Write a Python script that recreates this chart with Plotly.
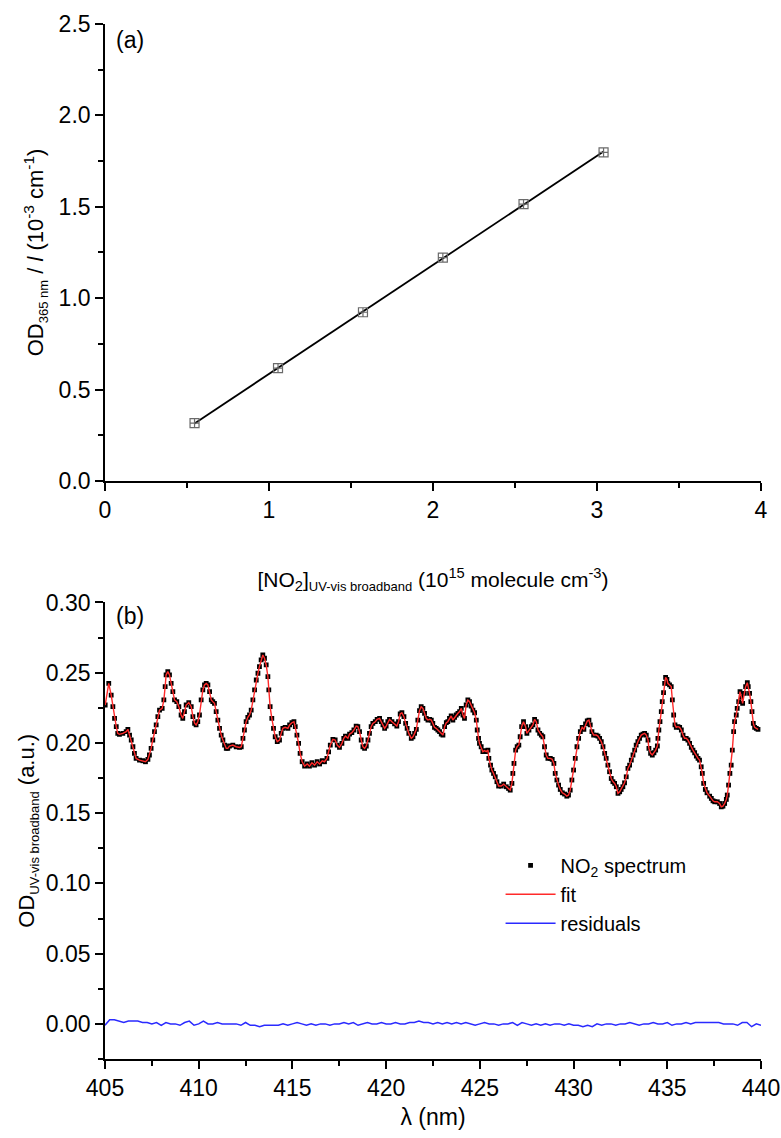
import numpy as np
import plotly.graph_objects as go

# ---------------- panel (a) data ----------------
no2_conc = [0.546, 1.055, 1.573, 2.06, 2.552, 3.04]
od365 = [0.316, 0.617, 0.923, 1.222, 1.515, 1.798]

# ---------------- panel (b) data ----------------
wl_seg1 = [405.01, 405.20, 405.33, 405.42, 405.51, 405.60, 405.68, 405.77, 405.95, 406.13,
           406.22, 406.31, 406.40, 406.49, 406.57, 406.66, 406.84, 407.02, 407.16, 407.29,
           407.37, 407.46, 407.55, 407.64, 407.73, 407.82, 407.91, 408.05, 408.14, 408.21,
           408.26, 408.35, 408.44, 408.53, 408.62, 408.71, 408.83, 408.94, 409.06, 409.15,
           409.24, 409.33, 409.47, 409.60, 409.69, 409.78, 409.86, 409.95, 410.04, 410.13,
           410.22, 410.31, 410.40, 410.49, 410.58, 410.67, 410.75, 410.84, 410.93, 411.02,
           411.11, 411.20, 411.29, 411.38, 411.47, 411.55, 411.64, 411.82, 412.00, 412.18,
           412.27, 412.36, 412.44, 412.53, 412.62, 412.71, 412.80, 412.89, 412.98, 413.07,
           413.16, 413.24, 413.33, 413.42, 413.51]
od_seg1 = [0.2270, 0.2424, 0.2341, 0.2258, 0.2175, 0.2116, 0.2068, 0.2061, 0.2068, 0.2080,
           0.2097, 0.2056, 0.2021, 0.1973, 0.1926, 0.1890, 0.1878, 0.1873, 0.1866, 0.1883,
           0.1914, 0.1961, 0.2021, 0.2080, 0.2128, 0.2187, 0.2234, 0.2246, 0.2306, 0.2401,
           0.2484, 0.2508, 0.2484, 0.2424, 0.2365, 0.2306, 0.2294, 0.2258, 0.2199, 0.2175,
           0.2223, 0.2270, 0.2287, 0.2258, 0.2187, 0.2140, 0.2128, 0.2151, 0.2199, 0.2306,
           0.2377, 0.2413, 0.2424, 0.2413, 0.2365, 0.2306, 0.2294, 0.2282, 0.2223, 0.2163,
           0.2104, 0.2056, 0.2021, 0.1985, 0.1961, 0.1961, 0.1978, 0.1985, 0.1973, 0.1968,
           0.1973, 0.2033, 0.2092, 0.2151, 0.2182, 0.2199, 0.2234, 0.2306, 0.2377, 0.2448,
           0.2496, 0.2543, 0.2591, 0.2626, 0.2603]

wl_seg2 = [413.60, 413.69, 413.74, 413.81, 413.90, 413.99, 414.08, 414.19, 414.31, 414.40,
           414.49, 414.61, 414.76, 414.85, 414.97, 415.08, 415.15, 415.24, 415.33, 415.41,
           415.52, 415.65, 415.79, 415.91, 416.04, 416.18, 416.32, 416.45, 416.59, 416.71,
           416.84, 416.93, 417.02, 417.16, 417.28, 417.39, 417.51, 417.64, 417.74, 417.83,
           417.96, 418.05, 418.17, 418.28, 418.40, 418.49, 418.58, 418.67, 418.76, 418.85,
           418.94, 419.03, 419.11, 419.20, 419.29, 419.42, 419.52, 419.65, 419.74, 419.83,
           419.92, 420.00, 420.09, 420.18, 420.31, 420.45, 420.57, 420.66, 420.75, 420.84,
           420.95, 421.04, 421.12, 421.21, 421.34, 421.43, 421.52, 421.61, 421.69, 421.78,
           421.87, 421.96, 422.05, 422.14, 422.23, 422.32]
od_seg2 = [0.2555, 0.2472, 0.2377, 0.2258, 0.2175, 0.2104, 0.2044, 0.2009, 0.2021, 0.2068,
           0.2104, 0.2111, 0.2104, 0.2128, 0.2144, 0.2151, 0.2116, 0.2056, 0.1997, 0.1926,
           0.1866, 0.1835, 0.1850, 0.1835, 0.1859, 0.1842, 0.1866, 0.1850, 0.1873, 0.1866,
           0.1890, 0.1937, 0.1985, 0.2025, 0.2021, 0.1985, 0.1968, 0.1997, 0.2033, 0.2049,
           0.2033, 0.2063, 0.2073, 0.2092, 0.2120, 0.2116, 0.2080, 0.2021, 0.1973, 0.1961,
           0.1978, 0.2021, 0.2068, 0.2116, 0.2139, 0.2151, 0.2168, 0.2175, 0.2151, 0.2128,
           0.2104, 0.2120, 0.2151, 0.2168, 0.2151, 0.2135, 0.2120, 0.2151, 0.2206, 0.2215,
           0.2187, 0.2139, 0.2104, 0.2068, 0.2033, 0.2044, 0.2068, 0.2097, 0.2163, 0.2230,
           0.2258, 0.2246, 0.2211, 0.2175, 0.2163, 0.2168]

wl_seg3 = [422.41, 422.49, 422.58, 422.67, 422.76, 422.85, 422.94, 423.03, 423.12, 423.21,
           423.29, 423.38, 423.47, 423.56, 423.65, 423.74, 423.83, 423.92, 424.01, 424.10,
           424.18, 424.27, 424.36, 424.45, 424.54, 424.63, 424.72, 424.81, 424.86, 424.93,
           424.98, 425.07, 425.16, 425.25, 425.34, 425.43, 425.48, 425.57, 425.64, 425.73,
           425.82, 425.91, 426.00, 426.14, 426.27, 426.41, 426.53, 426.62, 426.71, 426.76,
           426.82, 426.91, 426.99, 427.08, 427.15, 427.23, 427.33, 427.44, 427.51, 427.62,
           427.74, 427.83, 427.92, 428.01, 428.10, 428.19, 428.28, 428.36, 428.45, 428.54,
           428.63, 428.76, 428.86, 428.95, 429.02, 429.11, 429.20, 429.29, 429.40, 429.52,
           429.64, 429.73, 429.82, 429.91, 430.00, 430.09, 430.18, 430.27, 430.36, 430.46,
           430.55, 430.64, 430.73, 430.82, 430.89, 430.98, 431.07, 431.21]
od_seg3 = [0.2163, 0.2139, 0.2111, 0.2104, 0.2092, 0.2080, 0.2063, 0.2056, 0.2116, 0.2144,
           0.2151, 0.2175, 0.2192, 0.2163, 0.2182, 0.2199, 0.2211, 0.2223, 0.2246, 0.2199,
           0.2175, 0.2270, 0.2306, 0.2294, 0.2263, 0.2234, 0.2215, 0.2163, 0.2092, 0.2033,
           0.1997, 0.1973, 0.1938, 0.1945, 0.1938, 0.1949, 0.1890, 0.1842, 0.1807, 0.1783,
           0.1759, 0.1724, 0.1693, 0.1693, 0.1707, 0.1688, 0.1676, 0.1664, 0.1712, 0.1783,
           0.1854, 0.1949, 0.1973, 0.1985, 0.2044, 0.2116, 0.2151, 0.2116, 0.2068, 0.2092,
           0.2116, 0.2128, 0.2168, 0.2151, 0.2092, 0.2068, 0.2056, 0.2044, 0.1973, 0.1914,
           0.1890, 0.1890, 0.1883, 0.1854, 0.1783, 0.1736, 0.1700, 0.1669, 0.1645, 0.1636,
           0.1621, 0.1629, 0.1664, 0.1736, 0.1807, 0.1890, 0.1973, 0.2033, 0.2080, 0.2111,
           0.2097, 0.2135, 0.2156, 0.2163, 0.2128, 0.2080, 0.2056, 0.2056]

wl_seg4 = [431.30, 431.39, 431.48, 431.57, 431.66, 431.74, 431.83, 431.92, 432.01, 432.10,
           432.19, 432.28, 432.37, 432.46, 432.54, 432.63, 432.72, 432.81, 432.90, 432.99,
           433.08, 433.17, 433.26, 433.34, 433.43, 433.52, 433.61, 433.70, 433.79, 433.88,
           433.97, 434.02, 434.11, 434.20, 434.29, 434.38, 434.47, 434.50, 434.55, 434.61,
           434.68, 434.73, 434.80, 434.86, 434.91, 434.98, 435.03, 435.12, 435.21, 435.27,
           435.34, 435.41, 435.48, 435.57, 435.66, 435.75, 435.84, 435.92, 436.01, 436.10,
           436.19, 436.28, 436.37, 436.46, 436.55, 436.64, 436.72, 436.81, 436.87, 436.94,
           437.03, 437.12, 437.26, 437.35, 437.44, 437.53, 437.67, 437.79, 437.88, 437.97,
           438.06, 438.15, 438.20, 438.27, 438.34, 438.41, 438.47, 438.54, 438.59, 438.68,
           438.73, 438.81, 438.88, 438.95, 439.02, 439.11, 439.18, 439.27, 439.32, 439.39,
           439.46, 439.52, 439.59, 439.66, 439.75, 439.84]
od_seg4 = [0.2049, 0.2033, 0.2009, 0.1973, 0.1926, 0.1890, 0.1842, 0.1795, 0.1747, 0.1724,
           0.1712, 0.1688, 0.1641, 0.1652, 0.1669, 0.1688, 0.1716, 0.1759, 0.1819, 0.1842,
           0.1878, 0.1914, 0.1949, 0.1985, 0.2009, 0.2033, 0.2056, 0.2063, 0.2068, 0.2056,
           0.2021, 0.1961, 0.1926, 0.1914, 0.1930, 0.1949, 0.1978, 0.2033, 0.2092, 0.2151,
           0.2223, 0.2294, 0.2358, 0.2424, 0.2467, 0.2453, 0.2424, 0.2413, 0.2401, 0.2306,
           0.2199, 0.2128, 0.2111, 0.2116, 0.2111, 0.2092, 0.2056, 0.2033, 0.2033, 0.2021,
           0.1997, 0.1968, 0.1949, 0.1930, 0.1907, 0.1890, 0.1878, 0.1830, 0.1783, 0.1712,
           0.1669, 0.1645, 0.1621, 0.1605, 0.1588, 0.1581, 0.1581, 0.1569, 0.1545, 0.1550,
           0.1569, 0.1598, 0.1629, 0.1700, 0.1783, 0.1842, 0.1949, 0.2080, 0.2151, 0.2199,
           0.2246, 0.2294, 0.2365, 0.2329, 0.2282, 0.2353, 0.2401, 0.2429, 0.2401, 0.2353,
           0.2294, 0.2223, 0.2139, 0.2111, 0.2104, 0.2097]

wavelength = wl_seg1 + wl_seg2 + wl_seg3 + wl_seg4
od_spectrum = od_seg1 + od_seg2 + od_seg3 + od_seg4
n = min(len(wavelength), len(od_spectrum))
wavelength, od_spectrum = wavelength[:n], od_spectrum[:n]

residual_wl = list(np.round(np.arange(405.0, 440.001, 0.25), 2))
residuals = [-0.001, 0.003, 0.003, 0.002, 0.001, 0.002, 0.002, 0.002, 0.001, 0.001,
             0.000, 0.001, -0.001, 0.001, 0.000, 0.000, -0.001, 0.001, 0.002, -0.001,
             0.000, 0.002, 0.000, 0.000, 0.001, 0.000, 0.000, 0.000, 0.000, -0.001,
             0.001, -0.001, -0.001, -0.002, -0.001, -0.001, -0.001, -0.001, 0.000, -0.001,
             0.000, 0.001, 0.000, -0.001, 0.000, -0.001, 0.000, 0.000, -0.001, 0.000,
             0.000, 0.001, 0.000, 0.001, -0.001, 0.000, 0.001, 0.000, 0.000, 0.001,
             0.000, 0.000, 0.001, 0.000, 0.000, 0.001, 0.001, 0.002, 0.001, 0.001,
             0.000, 0.001, 0.000, 0.001, 0.000, 0.001, 0.000, 0.001, 0.000, -0.001,
             0.000, 0.001, 0.000, 0.000, -0.001, 0.000, 0.000, 0.001, -0.001, 0.001,
             0.000, -0.001, 0.000, -0.001, 0.000, -0.001, 0.000, 0.000, -0.001, 0.000,
             -0.001, -0.001, -0.002, -0.001, -0.002, 0.000, -0.001, 0.000, 0.000, -0.001,
             0.000, 0.000, 0.001, 0.000, -0.001, 0.000, 0.000, 0.001, 0.000, 0.000,
             0.001, -0.001, 0.000, 0.000, 0.001, 0.000, 0.001, 0.001, 0.001, 0.001,
             0.001, 0.001, 0.000, 0.000, 0.000, -0.001, 0.001, 0.001, -0.002, 0.000,
             -0.001]
m = min(len(residual_wl), len(residuals))
residual_wl, residuals = residual_wl[:m], residuals[:m]

# linear fit for panel (a)
slope, icpt = np.polyfit(no2_conc, od365, 1)
fit_x = [min(no2_conc), max(no2_conc)]
fit_y = [slope * v + icpt for v in fit_x]

FONT = "Liberation Sans, Arial, sans-serif"
SUB = "<span style='font-size:13px'>{}</span>"

fig = go.Figure()

fig.add_trace(go.Scatter(x=fit_x, y=fit_y, mode="lines",
                         line=dict(color="black", width=1.8),
                         xaxis="x", yaxis="y", showlegend=False, hoverinfo="skip"))
fig.add_trace(go.Scatter(x=no2_conc, y=od365, mode="markers",
                         marker=dict(symbol="square-cross-open", size=9, color="#6a6a6a",
                                     line=dict(width=1.2, color="#6a6a6a")),
                         xaxis="x", yaxis="y", showlegend=False))

fig.add_trace(go.Scatter(x=wavelength, y=od_spectrum, mode="markers",
                         marker=dict(symbol="square", size=4.8, color="black"),
                         name="NO<sub>2</sub> spectrum", xaxis="x2", yaxis="y2"))
fig.add_trace(go.Scatter(x=wavelength, y=od_spectrum, mode="lines",
                         line=dict(color="#ff2a2a", width=1.4),
                         name="fit", xaxis="x2", yaxis="y2"))
fig.add_trace(go.Scatter(x=residual_wl, y=residuals, mode="lines",
                         line=dict(color="#2a2aff", width=1.5),
                         name="residuals", xaxis="x2", yaxis="y2"))

axis_common = dict(showline=True, linecolor="black", linewidth=1.6, ticks="outside",
                   ticklen=8, tickwidth=1.6, tickcolor="black", showgrid=False,
                   zeroline=False, mirror=False, automargin=False,
                   tickfont=dict(family=FONT, size=23, color="black"))
minor_common = dict(ticks="outside", ticklen=5, tickwidth=1.6, tickcolor="black")

fig.update_layout(
    width=781, height=1138,
    margin=dict(l=105, r=20, t=24, b=79),
    paper_bgcolor="white", plot_bgcolor="white",
    font=dict(family=FONT, size=22, color="black"),
    xaxis=dict(domain=[0, 1], anchor="y", range=[0, 4], dtick=1, tick0=0,
               minor=dict(dtick=0.5, **minor_common),
               title=dict(text="[NO<sub>2</sub>]<sub>" + SUB.format("UV-vis broadband") +
                               "</sub> (10<sup>15</sup> molecule cm<sup>-3</sup>)",
                          standoff=50, font=dict(size=21)),
               **axis_common),
    yaxis=dict(domain=[0.5585, 1], anchor="x", range=[0, 2.5], dtick=0.5, tick0=0,
               tickformat=".1f",
               minor=dict(dtick=0.25, **minor_common),
               title=dict(text="OD<sub>" + SUB.format("365 nm") +
                               "</sub> / <i>l</i> (10<sup>-3</sup> cm<sup>-1</sup>)",
                          standoff=9, font=dict(size=22)),
               **axis_common),
    xaxis2=dict(domain=[0, 1], anchor="y2", range=[405, 440], dtick=5, tick0=405,
                minor=dict(dtick=2.5, **minor_common),
                title=dict(text="λ (nm)", standoff=8, font=dict(size=23)),
                **axis_common),
    yaxis2=dict(domain=[0, 0.4411], anchor="x2", range=[-0.025, 0.30], dtick=0.05, tick0=0,
                tickformat=".2f",
                minor=dict(dtick=0.025, **minor_common),
                title=dict(text="OD<sub>" + SUB.format("UV-vis broadband") + "</sub> (a.u.)",
                           standoff=5, font=dict(size=22)),
                **axis_common),
    legend=dict(x=0.603, y=0.206, xanchor="left", yanchor="top", itemwidth=50,
                bgcolor="rgba(0,0,0,0)", font=dict(family=FONT, size=20, color="black"),
                tracegroupgap=0),
    annotations=[
        dict(text="(a)", xref="x domain", yref="y domain", x=0.014, y=0.965,
             xanchor="left", yanchor="middle", showarrow=False,
             font=dict(family=FONT, size=23, color="black")),
        dict(text="(b)", xref="x2 domain", yref="y2 domain", x=0.014, y=0.970,
             xanchor="left", yanchor="middle", showarrow=False,
             font=dict(family=FONT, size=23, color="black")),
    ],
)

fig.write_html("out.html")
